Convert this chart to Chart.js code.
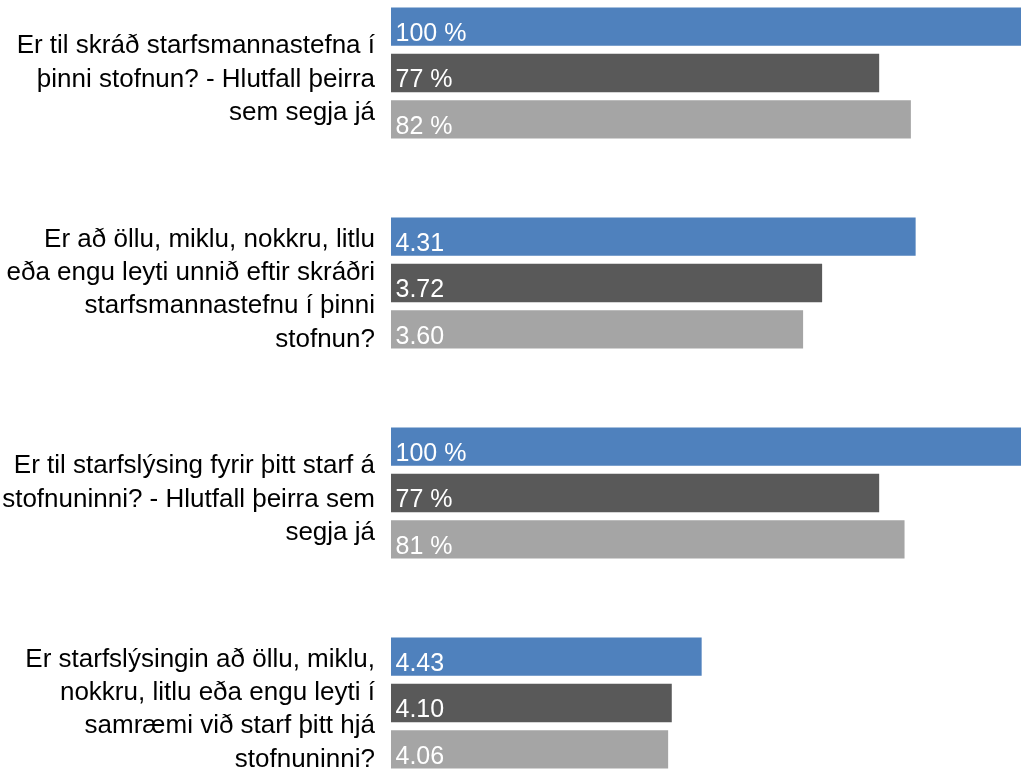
<!DOCTYPE html>
<html>
<head>
<meta charset="utf-8">
<script src="https://cdn.jsdelivr.net/npm/chart.js@4"></script>
<style>
  html, body { margin: 0; padding: 0; background: #ffffff; overflow: hidden; width: 1021px; height: 771px; }
  #wrap { position: absolute; left: 0; top: -32px; width: 1025px; height: 840px; }
</style>
</head>
<body>
<div id="wrap"><canvas id="c"></canvas></div>
<script>
// Question labels (already split into the lines shown)
const categories = [
  ["Er til skráð starfsmannastefna í", "þinni stofnun? - Hlutfall þeirra", "sem segja já"],
  ["Er að öllu, miklu, nokkru, litlu", "eða engu leyti unnið eftir skráðri", "starfsmannastefnu í þinni", "stofnun?"],
  ["Er til starfslýsing fyrir þitt starf á", "stofnuninni? - Hlutfall þeirra sem", "segja já"],
  ["Er starfslýsingin að öllu, miklu,", "nokkru, litlu eða engu leyti í", "samræmi við starf þitt hjá", "stofnuninni?"]
];

// Three series (blue, dark grey, light grey)
const seriesBlue  = [100, 4.31, 100, 4.43];
const seriesDark  = [77, 3.72, 77, 4.10];
const seriesLight = [82, 3.60, 81, 4.06];

// Each question has its own measurement scale and unit
const scaleLow  = [0, 1, 0, 1];
const scaleHigh = [100, 5, 100, 8];
const units     = ["%", "", "%", ""];

const colors = ["#4f81bd", "#595959", "#a5a5a5"];
const FONT = "'Liberation Sans', Arial, sans-serif";

function toShare(arr) {
  return arr.map((v, i) => (v - scaleLow[i]) / (scaleHigh[i] - scaleLow[i]));
}
function fmt(v, i) {
  return units[i] === "%" ? (v + " %") : v.toFixed(2);
}

const rawSeries = [seriesBlue, seriesDark, seriesLight];

const valueLabels = {
  id: "valueLabels",
  afterDatasetsDraw(chart) {
    const ctx = chart.ctx;
    ctx.save();
    ctx.font = "25px " + FONT;
    ctx.fillStyle = "#ffffff";
    ctx.textAlign = "left";
    ctx.textBaseline = "alphabetic";
    chart.data.datasets.forEach((ds, di) => {
      const meta = chart.getDatasetMeta(di);
      meta.data.forEach((bar, i) => {
        const p = bar.getProps(["x", "y", "base", "height"], true);
        const left = Math.min(p.base, p.x);
        const bottom = p.y + p.height / 2;
        ctx.fillText(fmt(rawSeries[di][i], i), left + 4.5, bottom - 5);
      });
    });
    ctx.restore();
  }
};

new Chart(document.getElementById("c"), {
  type: "bar",
  data: {
    labels: categories,
    datasets: rawSeries.map((s, k) => ({
      data: toShare(s),
      backgroundColor: colors[k],
      borderWidth: 0,
      categoryPercentage: 0.662,
      barPercentage: 0.828
    }))
  },
  options: {
    indexAxis: "y",
    responsive: true,
    maintainAspectRatio: false,
    animation: false,
    layout: { padding: 0 },
    plugins: { legend: { display: false }, tooltip: { enabled: false } },
    scales: {
      x: { display: false, min: 0, max: 1 },
      y: {
        grid: { display: false, drawTicks: false },
        border: { display: false },
        ticks: {
          color: "#000000",
          padding: 16,
          labelOffset: 6.5,
          font: { family: FONT, size: 26, lineHeight: 1.28 }
        },
        afterFit(scale) {
          scale.width = 391;
          scale.paddingTop = 0;
          scale.paddingBottom = 0;
        }
      }
    }
  },
  plugins: [valueLabels]
});
</script>
</body>
</html>
